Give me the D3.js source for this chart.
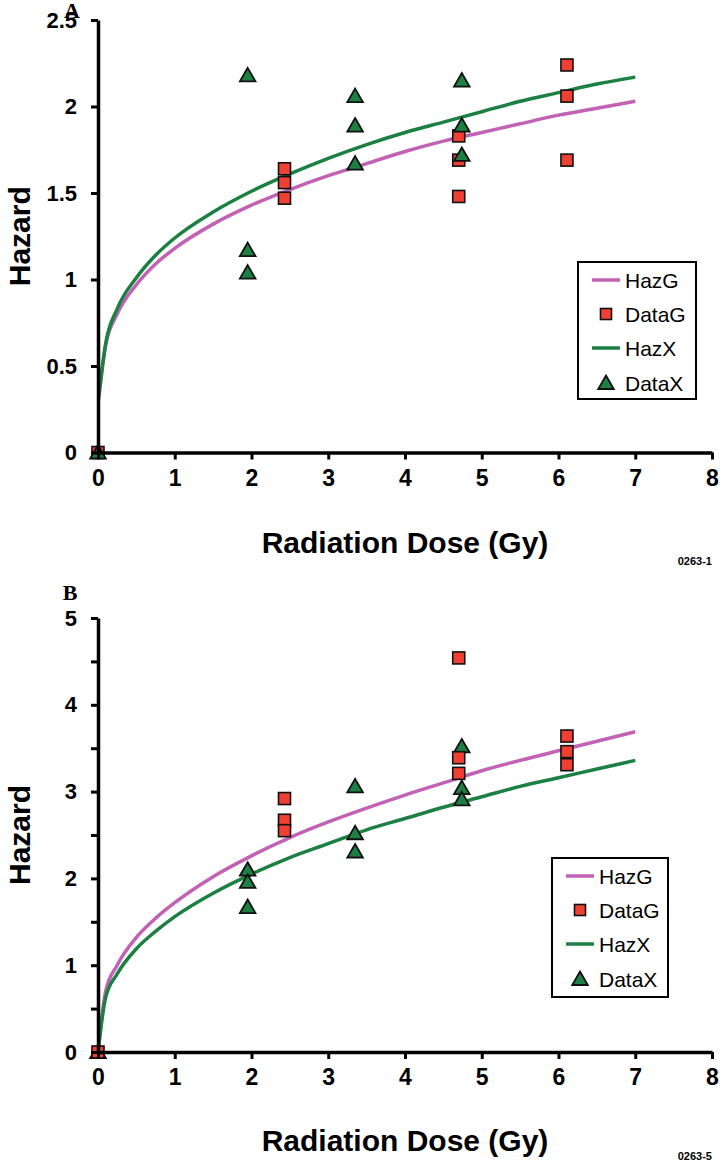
<!DOCTYPE html>
<html>
<head>
<meta charset="utf-8">
<script src="https://cdn.jsdelivr.net/npm/d3@7"></script>
<style>
  html, body { margin: 0; padding: 0; background: #fff; }
  svg { display: block; }
  text { font-family: "Liberation Sans", Arial, sans-serif; }
</style>
</head>
<body>
<svg id="chart" width="720" height="1163"></svg>
<script>
// ---------------- DATA ----------------
const xTicks = [0, 1, 2, 3, 4, 5, 6, 7, 8];
const xTickLabels = ["0", "1", "2", "3", "4", "5", "6", "7", "8"];

// Panel A
const yTicksA = [0, 0.5, 1, 1.5, 2, 2.5];
const yTickLabelsA = ["0", "0.5", "1", "1.5", "2", "2.5"];
const curveDoseA = [0.01, 0.1, 0.25, 0.5, 0.75, 1, 1.5, 2, 2.5, 3, 3.5, 4, 4.5, 5, 5.5, 6, 6.5, 7];
const hazG_A = [0.31, 0.62, 0.80, 0.97, 1.09, 1.18, 1.32, 1.43, 1.52, 1.60, 1.67, 1.74, 1.80, 1.85, 1.90, 1.95, 1.99, 2.03];
const hazX_A = [0.33, 0.63, 0.83, 1.01, 1.14, 1.24, 1.39, 1.51, 1.61, 1.70, 1.78, 1.85, 1.91, 1.97, 2.03, 2.08, 2.13, 2.17];
const dataG_A_dose = [0, 2.43, 2.43, 2.43, 4.70, 4.70, 4.70, 6.11, 6.11, 6.11];
const dataG_A = [0, 1.64, 1.56, 1.47, 1.83, 1.69, 1.48, 2.24, 2.06, 1.69];
const dataX_A_dose = [0, 1.95, 1.95, 1.95, 3.35, 3.35, 3.35, 4.74, 4.74, 4.74];
const dataX_A = [0, 2.18, 1.17, 1.04, 2.06, 1.89, 1.67, 2.15, 1.89, 1.72];

// Panel B
const yTicksB = [0, 0.5, 1, 1.5, 2, 2.5, 3, 3.5, 4, 4.5, 5];
const yTickLabelsB = ["0", "", "1", "", "2", "", "3", "", "4", "", "5"];
const curveDoseB = [0, 0.1, 0.25, 0.5, 0.75, 1, 1.5, 2, 2.5, 3, 3.5, 4, 4.5, 5, 5.5, 6, 6.5, 7];
const hazG_B = [0, 0.70, 1.00, 1.32, 1.54, 1.72, 2.02, 2.26, 2.47, 2.65, 2.81, 2.96, 3.10, 3.24, 3.36, 3.47, 3.58, 3.69];
const hazX_B = [0, 0.63, 0.90, 1.19, 1.39, 1.56, 1.83, 2.05, 2.24, 2.40, 2.56, 2.69, 2.82, 2.94, 3.06, 3.16, 3.26, 3.36];
const dataG_B_dose = [0, 2.43, 2.43, 2.43, 4.70, 4.70, 4.70, 6.11, 6.11, 6.11];
const dataG_B = [0, 2.92, 2.67, 2.55, 4.54, 3.39, 3.21, 3.64, 3.46, 3.31];
const dataX_B_dose = [0, 1.95, 1.95, 1.95, 3.35, 3.35, 3.35, 4.74, 4.74, 4.74];
const dataX_B = [0, 2.10, 1.96, 1.67, 3.06, 2.52, 2.31, 3.52, 3.04, 2.91];

const legendLabels = ["HazG", "DataG", "HazX", "DataX"];

// ---------------- STYLE ----------------
const PINK = "#c262b4";
const GREEN = "#1c8042";
const RED = "#ef4033";
const triPath = "M0,-7.5 L7.8,6 L-7.8,6 Z";

const svg = d3.select("#chart");

function drawPanel(cfg) {
  const g = svg.append("g");
  const x = d3.scaleLinear().domain([0, 8]).range([98, 712]);
  const y = d3.scaleLinear().domain([0, cfg.yMax]).range([cfg.y0, cfg.yTop]);

  // curves
  const line = d3.line().x(d => x(d[0])).y(d => y(d[1])).curve(d3.curveMonotoneX);
  const gPts = cfg.curveDose.map((d, i) => [d, cfg.hazG[i]]);
  const xPts = cfg.curveDose.map((d, i) => [d, cfg.hazX[i]]);
  g.append("path").attr("d", line(gPts)).attr("fill", "none")
    .attr("stroke", PINK).attr("stroke-width", 3.5).attr("stroke-linejoin", "round");
  g.append("path").attr("d", line(xPts)).attr("fill", "none")
    .attr("stroke", GREEN).attr("stroke-width", 3.5).attr("stroke-linejoin", "round");

  // markers
  function drawSquares() {
    g.append("g").selectAll("rect").data(cfg.dataGDose.map((d, i) => [d, cfg.dataG[i]]))
      .join("rect")
      .attr("x", d => x(d[0]) - 6).attr("y", d => y(d[1]) - 6)
      .attr("width", 12).attr("height", 12)
      .attr("fill", RED).attr("stroke", "#111").attr("stroke-width", 1.6);
  }
  function drawTriangles() {
    g.append("g").selectAll("path").data(cfg.dataXDose.map((d, i) => [d, cfg.dataX[i]]))
      .join("path")
      .attr("d", triPath)
      .attr("transform", d => `translate(${x(d[0])},${y(d[1])})`)
      .attr("fill", GREEN).attr("stroke", "#111").attr("stroke-width", 1.8)
      .attr("stroke-linejoin", "miter");
  }
  if (cfg.squaresOnTop) { drawTriangles(); drawSquares(); }
  else { drawSquares(); drawTriangles(); }

  // axes
  const xAxis = d3.axisBottom(x).tickValues(xTicks)
    .tickFormat((d, i) => xTickLabels[i]).tickSize(7).tickSizeOuter(0).tickPadding(10);
  const gx = g.append("g").attr("transform", `translate(0,${cfg.y0})`).call(xAxis);
  const yAxis = d3.axisLeft(y).tickValues(cfg.yTicks)
    .tickFormat((d, i) => cfg.yTickLabels[i]).tickSize(7).tickSizeOuter(0).tickPadding(14);
  const gy = g.append("g").attr("transform", `translate(98,0)`).call(yAxis);

  [gx, gy].forEach(a => {
    a.select(".domain").attr("stroke", "#000").attr("stroke-width", 3.5);
    a.selectAll(".tick line").attr("stroke", "#000").attr("stroke-width", 3);
    a.selectAll(".tick text").attr("fill", "#000")
      .style("font-family", '"Liberation Sans", Arial, sans-serif')
      .style("font-weight", "bold");
  });
  gx.selectAll(".tick text").style("font-size", "23px");
  gy.selectAll(".tick text").style("font-size", "22px");

  // axis titles
  g.append("text").attr("x", 405).attr("y", cfg.xTitleY)
    .attr("text-anchor", "middle").style("font-size", "30px").style("font-weight", "bold")
    .text("Radiation Dose (Gy)");
  const yc = (cfg.y0 + cfg.yTop) / 2;
  g.append("text").attr("transform", `translate(30,${yc}) rotate(-90)`)
    .attr("text-anchor", "middle").style("font-size", "30px").style("font-weight", "bold")
    .text("Hazard");

  // panel letter
  g.append("text").attr("x", cfg.letterX).attr("y", cfg.letterY)
    .attr("text-anchor", "middle")
    .style("font-family", '"Liberation Serif", "Times New Roman", serif')
    .style("font-size", "22px").style("font-weight", "bold")
    .text(cfg.letter);

  // figure code
  g.append("text").attr("x", 712).attr("y", cfg.codeY)
    .attr("text-anchor", "end").style("font-size", "11px").style("font-weight", "bold")
    .text(cfg.code);

  // legend
  const L = cfg.legend;
  const lg = g.append("g");
  lg.append("rect").attr("x", L.x).attr("y", L.y).attr("width", L.w).attr("height", L.h)
    .attr("fill", "#fff").attr("stroke", "#000").attr("stroke-width", 2);
  const rows = [L.y + 18, L.y + 52, L.y + 86, L.y + 121];
  const mx = L.x + 28;
  lg.append("line").attr("x1", mx - 14).attr("x2", mx + 14).attr("y1", rows[0]).attr("y2", rows[0])
    .attr("stroke", PINK).attr("stroke-width", 3.5);
  lg.append("rect").attr("x", mx - 5.5).attr("y", rows[1] - 5.5).attr("width", 11).attr("height", 11)
    .attr("fill", RED).attr("stroke", "#111").attr("stroke-width", 1.6);
  lg.append("line").attr("x1", mx - 14).attr("x2", mx + 14).attr("y1", rows[2]).attr("y2", rows[2])
    .attr("stroke", GREEN).attr("stroke-width", 3.5);
  lg.append("path").attr("d", triPath).attr("transform", `translate(${mx},${rows[3]})`)
    .attr("fill", GREEN).attr("stroke", "#111").attr("stroke-width", 1.8);
  legendLabels.forEach((t, i) => {
    lg.append("text").attr("x", L.x + 47).attr("y", rows[i]).attr("dy", "0.36em")
      .style("font-size", "21px").text(t);
  });
}

drawPanel({
  yMax: 2.5, y0: 452.5, yTop: 20,
  yTicks: yTicksA, yTickLabels: yTickLabelsA,
  curveDose: curveDoseA, hazG: hazG_A, hazX: hazX_A,
  dataGDose: dataG_A_dose, dataG: dataG_A, dataXDose: dataX_A_dose, dataX: dataX_A,
  squaresOnTop: false,
  xTitleY: 553, letter: "A", letterX: 72, letterY: 18, code: "0263-1", codeY: 565,
  legend: { x: 578, y: 262, w: 118, h: 137 }
});

drawPanel({
  yMax: 5, y0: 1052, yTop: 618,
  yTicks: yTicksB, yTickLabels: yTickLabelsB,
  curveDose: curveDoseB, hazG: hazG_B, hazX: hazX_B,
  dataGDose: dataG_B_dose, dataG: dataG_B, dataXDose: dataX_B_dose, dataX: dataX_B,
  squaresOnTop: true,
  xTitleY: 1151, letter: "B", letterX: 70, letterY: 600, code: "0263-5", codeY: 1160,
  legend: { x: 552, y: 858, w: 116, h: 139 }
});
</script>
</body>
</html>
